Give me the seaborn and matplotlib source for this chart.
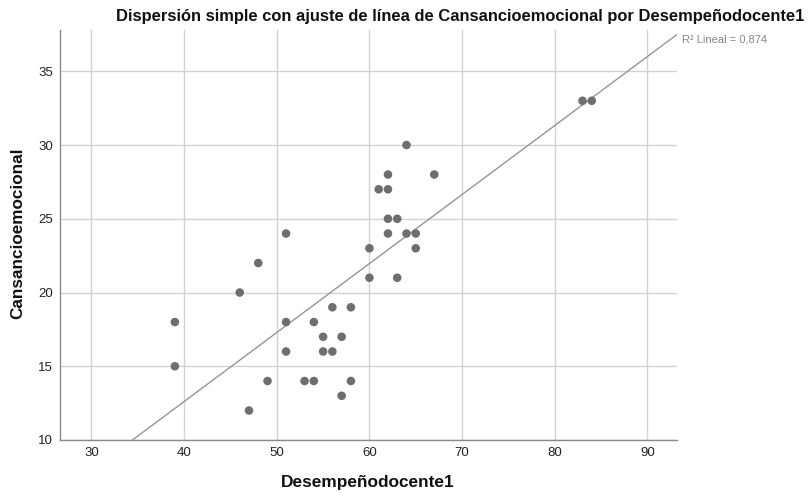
import matplotlib
matplotlib.use("Agg")
import matplotlib.pyplot as plt
import seaborn as sns
import pandas as pd

# Points; the top-right cluster (83,33)/(84,33) holds many
# overlapping cases, which is what gives the reported R² = 0,874.
desempeno = [39, 39, 46, 47, 48, 49, 51, 51, 51, 53, 54, 54, 55, 55, 56, 56, 57, 57,
             58, 58, 60, 60, 61, 62, 62, 62, 62, 63, 63, 64, 64, 65, 65, 67,
             83, 83, 83, 83, 83, 83, 83, 83, 83, 83, 83, 83, 83, 83, 83, 83, 83, 83, 83, 83, 83, 83,
             84, 84, 84, 84, 84, 84, 84, 84, 84, 84, 84, 84, 84, 84, 84, 84, 84, 84, 84, 84, 84, 84]
cansancio = [18, 15, 20, 12, 22, 14, 24, 18, 16, 14, 18, 14, 17, 16, 19, 16, 17, 13,
             19, 14, 23, 21, 27, 28, 27, 25, 24, 25, 21, 30, 24, 24, 23, 28,
             33, 33, 33, 33, 33, 33, 33, 33, 33, 33, 33, 33, 33, 33, 33, 33, 33, 33, 33, 33, 33, 33,
             33, 33, 33, 33, 33, 33, 33, 33, 33, 33, 33, 33, 33, 33, 33, 33, 33, 33, 33, 33, 33, 33]
x_ticks = [30, 40, 50, 60, 70, 80, 90]
y_ticks = [10, 15, 20, 25, 30, 35]
title = "Dispersión simple con ajuste de línea de Cansancioemocional por Desempeñodocente1"
r2_label = "R² Lineal = 0,874"

df = pd.DataFrame({"Desempeñodocente1": desempeno, "Cansancioemocional": cansancio})

sns.set_theme(style="white")
plt.rcParams["font.family"] = ["Liberation Sans", "DejaVu Sans"]

fig = plt.figure(figsize=(8.11, 4.98), dpi=100)
ax = fig.add_axes([60/811, 1-440/498, (677-60)/811, (440-30)/498])

ax.set_xlim(26.6, 93.2)
ax.set_ylim(10, 37.8)

# fit line from all cases
sns.regplot(data=df, x="Desempeñodocente1", y="Cansancioemocional", ax=ax, ci=None,
            truncate=False, scatter=False,
            line_kws=dict(color="#959595", lw=1.0, zorder=2))
# markers: coincident cases are drawn once, as SPSS does
sns.scatterplot(data=df.drop_duplicates(), x="Desempeñodocente1", y="Cansancioemocional",
                ax=ax, color="#6e6e6e", s=38, edgecolor="none", alpha=1, zorder=3)
ax.set_xlim(26.6, 93.2)
ax.set_ylim(10, 37.8)

ax.set_xticks(x_ticks)
ax.set_yticks(y_ticks)
ax.grid(True, color="#d2d2d2", lw=1.0)
ax.set_axisbelow(True)
for s in ["top", "right"]:
    ax.spines[s].set_visible(False)
for s in ["left", "bottom"]:
    ax.spines[s].set_color("#8a8a8a")
    ax.spines[s].set_linewidth(1.0)
ax.tick_params(axis="both", length=0, labelsize=9.5, labelcolor="#222222", pad=5)

ax.set_xlabel("")
ax.set_ylabel("")
fig.text(368/811, 1-482/498, "Desempeñodocente1", ha="center", va="center",
         fontsize=12.4, fontweight="bold", color="#111111")
fig.text(18/811, 1-233/498, "Cansancioemocional", ha="center", va="center",
         rotation=90, fontsize=12.3, fontweight="bold", color="#111111")
fig.text(460/811, 1-16/498, title, ha="center", va="center",
         fontsize=11.9, fontweight="bold", color="#111111")
fig.text(682/811, 1-40/498, r2_label, ha="left", va="center",
         fontsize=8.0, color="#858585")

fig.savefig("out.png", dpi=100)
